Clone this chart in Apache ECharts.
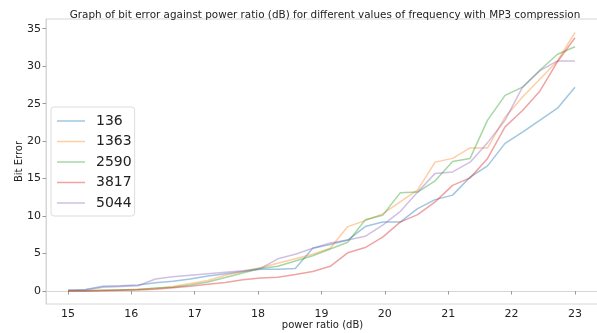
<!DOCTYPE html>
<html>
<head>
<meta charset="utf-8">
<script src="https://cdn.jsdelivr.net/npm/echarts@6/dist/echarts.min.js"></script>
<style>
  html, body { margin: 0; padding: 0; background: #ffffff; }
  #chart { width: 597px; height: 333px; }
</style>
</head>
<body>
<div id="chart"></div>
<script>
// Power ratio sample points (dB), 30 evenly spaced steps from 15 to 23
const powerRatio = [15, 15.2759, 15.5517, 15.8276, 16.1034, 16.3793, 16.6552, 16.931, 17.2069, 17.4828,
  17.7586, 18.0345, 18.3103, 18.5862, 18.8621, 19.1379, 19.4138, 19.6897, 19.9655, 20.2414,
  20.5172, 20.7931, 21.069, 21.3448, 21.6207, 21.8966, 22.1724, 22.4483, 22.7241, 23];

// Bit error per frequency
const freqNames = ['136', '1363', '2590', '3817', '5044'];
const err136  = [0.1, 0.2, 0.65, 0.7, 0.8, 1.1, 1.3, 1.6, 2.0, 2.3, 2.6, 2.9, 2.9, 3.0, 5.7, 6.2, 6.8, 8.6, 9.2, 9.2, 11.0, 12.2, 12.8, 15.2, 16.7, 19.7, 21.2, 22.8, 24.4, 27.2];
const err1363 = [0.0, 0.05, 0.1, 0.15, 0.25, 0.35, 0.6, 1.0, 1.4, 2.1, 2.6, 3.1, 3.7, 4.3, 4.9, 5.7, 8.6, 9.4, 10.3, 11.9, 13.5, 17.2, 17.7, 19.1, 19.1, 23.2, 25.9, 28.3, 30.7, 34.5];
const err2590 = [0.05, 0.05, 0.1, 0.15, 0.2, 0.4, 0.5, 0.8, 1.2, 1.8, 2.4, 3.0, 3.3, 4.0, 4.7, 5.6, 6.5, 9.5, 10.1, 13.1, 13.2, 14.7, 17.3, 17.7, 22.8, 26.1, 27.2, 29.5, 31.6, 32.6];
const err3817 = [0.0, 0.02, 0.05, 0.1, 0.15, 0.25, 0.45, 0.65, 0.9, 1.15, 1.5, 1.75, 1.85, 2.2, 2.6, 3.3, 5.1, 5.8, 7.2, 9.2, 10.2, 11.9, 14.1, 15.1, 17.7, 21.9, 24.1, 26.7, 30.6, 33.8];
const err5044 = [0.1, 0.15, 0.5, 0.6, 0.7, 1.6, 1.9, 2.1, 2.3, 2.5, 2.7, 3.0, 4.3, 4.9, 5.7, 6.4, 6.8, 7.3, 8.8, 10.6, 13.2, 15.7, 15.9, 17.2, 19.8, 22.8, 27.2, 29.4, 30.7, 30.7];

const xTicks = [15, 16, 17, 18, 19, 20, 21, 22, 23];
const yTicks = [0, 5, 10, 15, 20, 25, 30, 35];

const lineColors = [
  'rgba(31,119,180,0.42)',
  'rgba(255,127,14,0.38)',
  'rgba(44,160,44,0.42)',
  'rgba(214,39,40,0.42)',
  'rgba(148,103,189,0.42)'
];

const allErrors = [err136, err1363, err2590, err3817, err5044];
const FONT = 'DejaVu Sans';

const series = freqNames.map((name, i) => ({
  name: name,
  type: 'line',
  symbol: 'none',
  data: powerRatio.map((x, j) => [x, allErrors[i][j]]),
  lineStyle: { width: 1.5, color: lineColors[i] },
  itemStyle: { color: lineColors[i] }
}));

const chart = echarts.init(document.getElementById('chart'), null, { renderer: 'canvas' });
chart.setOption({
  animation: false,
  backgroundColor: '#ffffff',
  title: {
    text: 'Graph of bit error against power ratio (dB) for different values of frequency with MP3 compression',
    left: 320, top: 5, textAlign: 'center',
    textStyle: { fontFamily: FONT, fontSize: 10.4, fontWeight: 'normal', color: '#222' }
  },
  grid: {
    left: 46, top: 19, right: -2, bottom: 29,
    outerBoundsMode: 'none',
    containLabel: false,
    show: true, borderColor: '#d6d6d6', borderWidth: 1
  },
  legend: {
    orient: 'vertical',
    left: 51, top: 107,
    padding: [7, 3, 6, 6],
    itemGap: 6.5,
    itemWidth: 28, itemHeight: 1.5,
    icon: 'rect',
    backgroundColor: 'rgba(255,255,255,0.8)',
    borderColor: '#dddddd', borderWidth: 1, borderRadius: 3,
    textStyle: { fontFamily: FONT, fontSize: 14, color: '#222', padding: [0, 0, 0, 6] },
    data: freqNames
  },
  xAxis: {
    type: 'value',
    min: 14.653, max: 23.379,
    name: 'power ratio (dB)',
    nameLocation: 'middle', nameGap: 16, nameMoveOverlap: false,
    nameTextStyle: { fontFamily: FONT, fontSize: 10, color: '#222' },
    axisLine: { show: true, lineStyle: { color: '#d6d6d6', width: 1 } },
    axisTick: { show: true, customValues: xTicks, length: 3.5, lineStyle: { color: '#999' } },
    axisLabel: { customValues: xTicks, fontFamily: FONT, fontSize: 11, color: '#222', margin: 5 },
    splitLine: { show: false }
  },
  yAxis: {
    type: 'value',
    min: -1.73, max: 36.3,
    name: 'Bit Error',
    nameLocation: 'middle', nameGap: 22, nameRotate: 90, nameMoveOverlap: false,
    nameTextStyle: { fontFamily: FONT, fontSize: 10, color: '#222' },
    axisLine: { show: true, lineStyle: { color: '#d6d6d6', width: 1 } },
    axisTick: { show: true, customValues: yTicks, length: 3.5, lineStyle: { color: '#999' } },
    axisLabel: { customValues: yTicks, fontFamily: FONT, fontSize: 11, color: '#222', margin: 5 },
    splitLine: { show: false }
  },
  series: series
});
</script>
</body>
</html>
